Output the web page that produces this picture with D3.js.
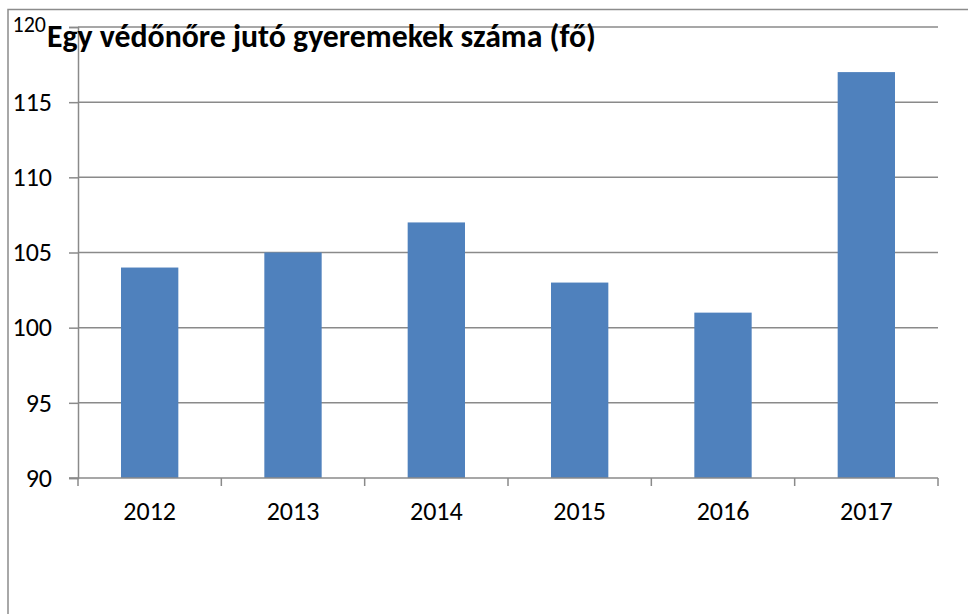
<!DOCTYPE html>
<html>
<head>
<meta charset="utf-8">
<script src="https://cdn.jsdelivr.net/npm/d3@7"></script>
<style>
  body { margin: 0; background: #fff; }
  svg { display: block; }
  .axis text { font-family: Carlito, "Liberation Sans", sans-serif; fill: #000; }
</style>
</head>
<body>
<div id="chart"></div>
<script>
// data
const years = ["2012", "2013", "2014", "2015", "2016", "2017"];
const values = [104, 105, 107, 103, 101, 117];
const yTicks = [90, 95, 100, 105, 110, 115, 120];
const title = "Egy védőnőre jutó gyeremekek száma (fő)";

const W = 968, H = 614;
const margin = { top: 27, right: 30, bottom: 136, left: 78 };
const width = W - margin.left - margin.right;
const height = H - margin.top - margin.bottom;

const svg = d3.select("#chart").append("svg")
    .attr("width", W)
    .attr("height", H);

// outer frame
svg.append("rect")
    .attr("x", 8).attr("y", 9.5)
    .attr("width", W + 10).attr("height", H + 10)
    .attr("fill", "none")
    .attr("stroke", "#8c8c8c")
    .attr("stroke-width", 1.5);

const g = svg.append("g")
    .attr("transform", `translate(${margin.left},${margin.top})`);

const x = d3.scaleBand().domain(years).range([0, width]).paddingInner(0.6).paddingOuter(0.3);
const xEdge = d3.scaleLinear().domain([0, years.length]).range([0, width]);
const y = d3.scaleLinear().domain([90, 120]).range([height, 0]);

// gridlines
g.append("g")
    .selectAll("line")
    .data(yTicks.slice(1))
    .join("line")
    .attr("x1", 0).attr("x2", width)
    .attr("y1", d => y(d)).attr("y2", d => y(d))
    .attr("stroke", "#8a8a8a")
    .attr("stroke-width", 1.5);

// bars
g.selectAll(".bar")
    .data(values)
    .join("rect")
    .attr("class", "bar")
    .attr("x", (d, i) => x(years[i]))
    .attr("y", d => y(d))
    .attr("width", x.bandwidth())
    .attr("height", d => height - y(d))
    .attr("fill", "#4f81bd");

// y axis
const yAxis = g.append("g")
    .attr("class", "axis")
    .call(d3.axisLeft(y).tickValues(yTicks).tickSize(9).tickPadding(17));
yAxis.attr("font-size", null);
yAxis.select(".domain").attr("stroke", "#8a8a8a").attr("stroke-width", 1.5);
yAxis.selectAll(".tick line").attr("stroke", "#8a8a8a").attr("stroke-width", 1.5);
yAxis.selectAll(".tick text").style("font-size", "26px");
// top label sits under the title, smaller
yAxis.selectAll(".tick text").filter(d => d === 120)
    .style("font-size", "22px")
    .attr("x", -32)
    .attr("dy", "0.2em");

// x axis: ticks at category boundaries
const xg = g.append("g")
    .attr("class", "axis")
    .attr("transform", `translate(0,${height})`);
xg.append("line")
    .attr("x1", -9).attr("x2", width)
    .attr("stroke", "#8a8a8a").attr("stroke-width", 1.5);
xg.selectAll(".edge")
    .data(d3.range(years.length + 1))
    .join("line")
    .attr("class", "edge")
    .attr("x1", d => xEdge(d)).attr("x2", d => xEdge(d))
    .attr("y1", 0).attr("y2", 8)
    .attr("stroke", "#8a8a8a").attr("stroke-width", 1.5);
xg.selectAll(".lbl")
    .data(years)
    .join("text")
    .attr("class", "lbl")
    .attr("x", d => x(d) + x.bandwidth() / 2)
    .attr("y", 42)
    .attr("text-anchor", "middle")
    .style("font-size", "26px")
    .text(d => d);

// title
svg.append("text")
    .attr("x", 47)
    .attr("y", 47)
    .attr("font-family", "Carlito, 'Liberation Sans', sans-serif")
    .attr("font-weight", "bold")
    .attr("font-size", 32)
    .attr("textLength", 549)
    .attr("lengthAdjust", "spacingAndGlyphs")
    .text(title);
</script>
</body>
</html>
